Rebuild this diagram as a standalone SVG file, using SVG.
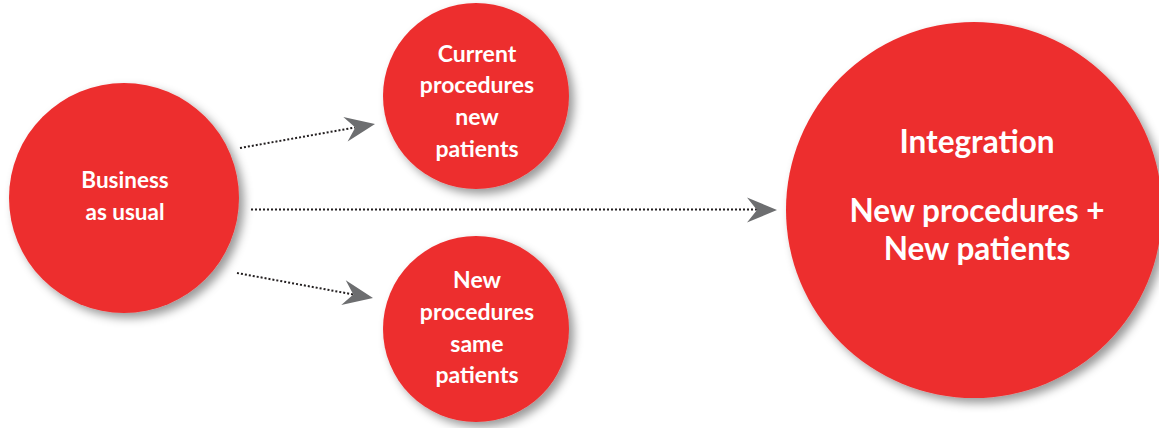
<svg xmlns="http://www.w3.org/2000/svg" xmlns:xlink="http://www.w3.org/1999/xlink" width="1159" height="428" viewBox="0 0 1159 428">
  <style>
    .node { fill: #ED2E2F; filter: url(#shadow); }
    .label { fill: #FFFFFF; font-family: Lato, "Open Sans", "DejaVu Sans", sans-serif; font-weight: 700; text-anchor: middle; }
    .small { font-size: 23px; }
    .mid { font-size: 22.5px; }
    .big { font-size: 31.5px; }
    .dots { fill: none; stroke: #231F20; stroke-width: 2; stroke-dasharray: 2 2; }
    .chev { fill: #6D6E70; }
  </style>
  <defs>
    <filter id="shadow" x="-20%" y="-20%" width="145%" height="145%">
      <feDropShadow dx="5" dy="5" stdDeviation="5" flood-color="#000000" flood-opacity="0.4"/>
    </filter>
    <path id="chevron" d="M0,0 L-30,-12.5 L-20,0 L-30,12.5 Z"/>
  </defs>
  <rect width="1159" height="428" fill="#FFFFFF"/>

  <g id="connectors">
    <line class="dots" x1="240" y1="148" x2="355" y2="127.5"/>
    <use class="chev" xlink:href="#chevron" href="#chevron" transform="translate(375,124) rotate(-10)"/>
    <line class="dots" x1="251" y1="209.5" x2="757" y2="209.5"/>
    <use class="chev" xlink:href="#chevron" href="#chevron" transform="translate(777,210)"/>
    <line class="dots" x1="237" y1="273" x2="353" y2="294.4"/>
    <use class="chev" xlink:href="#chevron" href="#chevron" transform="translate(373,298) rotate(10.4)"/>
  </g>

  <g id="business">
    <circle class="node" cx="124" cy="198" r="115"/>
    <text class="label mid"><tspan x="125" y="188">Business</tspan><tspan x="125" y="220">as usual</tspan></text>
  </g>

  <g id="current">
    <circle class="node" cx="476" cy="96" r="93"/>
    <text class="label small"><tspan x="477" y="62">Current</tspan><tspan x="477" y="93">procedures</tspan><tspan x="477" y="125">new</tspan><tspan x="477" y="157">patients</tspan></text>
  </g>

  <g id="newproc">
    <circle class="node" cx="476" cy="329" r="93"/>
    <text class="label small"><tspan x="477" y="288">New</tspan><tspan x="477" y="320">procedures</tspan><tspan x="477" y="352">same</tspan><tspan x="477" y="383">patients</tspan></text>
  </g>

  <g id="integration">
    <circle class="node" cx="974" cy="210" r="188"/>
    <text class="label big"><tspan x="977" y="153">Integration</tspan><tspan x="977" y="222">New procedures +</tspan><tspan x="977" y="260">New patients</tspan></text>
  </g>
</svg>
